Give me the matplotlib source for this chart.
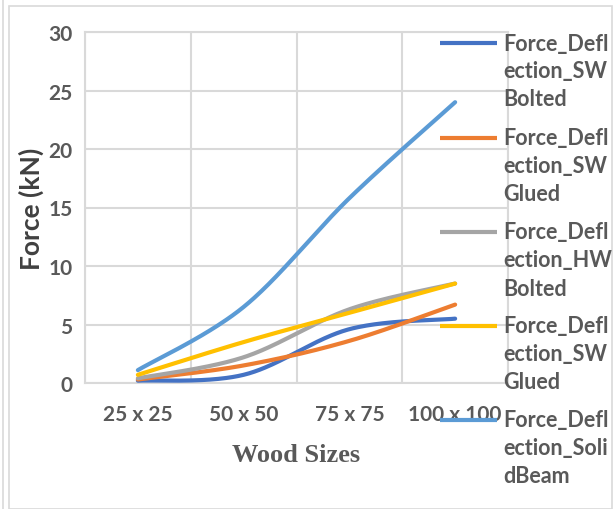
import numpy as np
import matplotlib
matplotlib.use("Agg")
import matplotlib.pyplot as plt
from matplotlib.lines import Line2D
from matplotlib.patches import Rectangle

# ── Data ───────────────────────────────────────────────────────────────────────
WOOD_SIZES = ["25 x 25", "50 x 50", "75 x 75", "100 x 100"]

SW_BOLTED   = [0.2, 0.7, 4.6, 5.5]
SW_GLUED    = [0.3, 1.5, 3.6, 6.7]
HW_BOLTED   = [0.4, 2.2, 6.3, 8.5]
SW_GLUED_2  = [0.7, 3.5, 6.0, 8.5]
SOLID_BEAM  = [1.1, 6.5, 15.8, 24.0]

SERIES_LABELS = [
    "Force_Defl\nection_SW\nBolted",
    "Force_Defl\nection_SW\nGlued",
    "Force_Defl\nection_HW\nBolted",
    "Force_Defl\nection_SW\nGlued",
    "Force_Defl\nection_Soli\ndBeam",
]

# ── Style ──────────────────────────────────────────────────────────────────────
COLORS     = ["#4472C4", "#ED7D31", "#A5A5A5", "#FFC000", "#5B9BD5"]
TEXT_COLOR = "#595959"
GRID_COLOR = "#D9D9D9"
SANS       = ["Lato", "DejaVu Sans"]

W, H, DPI = 616, 510, 100


def smooth(xs, ys, n=60):
    """Excel-style smoothed line: cubic Bezier segments with Catmull-Rom tangents."""
    p = np.column_stack([xs, ys]).astype(float)
    ext = np.vstack([p[0], p, p[-1]])
    out = []
    for i in range(len(p) - 1):
        p0, p1, p2, p3 = ext[i], ext[i + 1], ext[i + 2], ext[i + 3]
        c1 = p1 + (p2 - p0) / 6.0
        c2 = p2 - (p3 - p1) / 6.0
        t = np.linspace(0, 1, n)[:, None]
        seg = ((1 - t) ** 3) * p1 + 3 * ((1 - t) ** 2) * t * c1 \
            + 3 * (1 - t) * t ** 2 * c2 + t ** 3 * p2
        out.append(seg if i == 0 else seg[1:])
    seg = np.vstack(out)
    return seg[:, 0], seg[:, 1]


fig = plt.figure(figsize=(W / DPI, H / DPI), dpi=DPI)
ax = fig.add_axes([85 / W, 1 - 384 / H, (508 - 85) / W, (384 - 33) / H])

# chart frame
fig.patches.append(Rectangle((9 / W, 0), (612 - 9) / W, 1 - 7 / H,
                             transform=fig.transFigure, fill=False,
                             edgecolor=GRID_COLOR, linewidth=1.2))
fig.lines.append(Line2D([3 / W, 3 / W], [0, 1], transform=fig.transFigure,
                        color=GRID_COLOR, linewidth=1.2))

x = np.arange(len(WOOD_SIZES))
all_series = [SW_BOLTED, SW_GLUED, HW_BOLTED, SW_GLUED_2, SOLID_BEAM]
for ys, color in zip(all_series, COLORS):
    sx, sy = smooth(x, ys)
    ax.plot(sx, sy, color=color, linewidth=3, solid_capstyle="round", zorder=3)

ax.set_xlim(-0.5, len(WOOD_SIZES) - 0.5)
ax.set_ylim(0, 30)
ax.set_yticks(np.arange(0, 31, 5))
ax.set_xticks(x)
ax.set_xticklabels(WOOD_SIZES)

# vertical gridlines sit between categories
ax.set_xticks(np.arange(-0.5, len(WOOD_SIZES)), minor=True)
ax.grid(True, which="minor", axis="x", color=GRID_COLOR, linewidth=1.5)
ax.grid(True, which="major", axis="y", color=GRID_COLOR, linewidth=1.5)
ax.set_axisbelow(True)
for side, spine in ax.spines.items():
    spine.set_color(GRID_COLOR)
    spine.set_linewidth(1.5)

ax.tick_params(which="both", length=0)
ax.tick_params(axis="y", pad=9)
ax.tick_params(axis="x", pad=15)
for lbl in ax.get_xticklabels() + ax.get_yticklabels():
    lbl.set_family(SANS)
    lbl.set_fontweight("bold")
    lbl.set_fontsize(15)
    lbl.set_color(TEXT_COLOR)

ax.set_ylabel("Force (kN)", family=SANS, fontweight="bold", fontsize=19,
              color="#404040")
ax.yaxis.set_label_coords(-0.097, 0.5)
ax.set_xlabel("Wood Sizes", family="Liberation Serif", fontweight="bold",
              fontsize=19, color=TEXT_COLOR)
ax.xaxis.set_label_coords(0.5, -0.172)

# legend, drawn entry by entry so each handle lines up with its first text line
entry_y = [44, 138.5, 233, 327, 421]
for label, color, yp in zip(SERIES_LABELS, COLORS, entry_y):
    fy = 1 - yp / H
    fig.lines.append(Line2D([440 / W, 497 / W], [fy, fy], transform=fig.transFigure,
                            color=color, linewidth=3, solid_capstyle="butt"))
    for k, line in enumerate(label.split("\n")):
        fig.text(503 / W, 1 - (yp + 28 * k) / H, line, family=SANS,
                 fontweight="bold", fontsize=15.5, color=TEXT_COLOR,
                 ha="left", va="center")

fig.savefig("out.png", dpi=DPI)
